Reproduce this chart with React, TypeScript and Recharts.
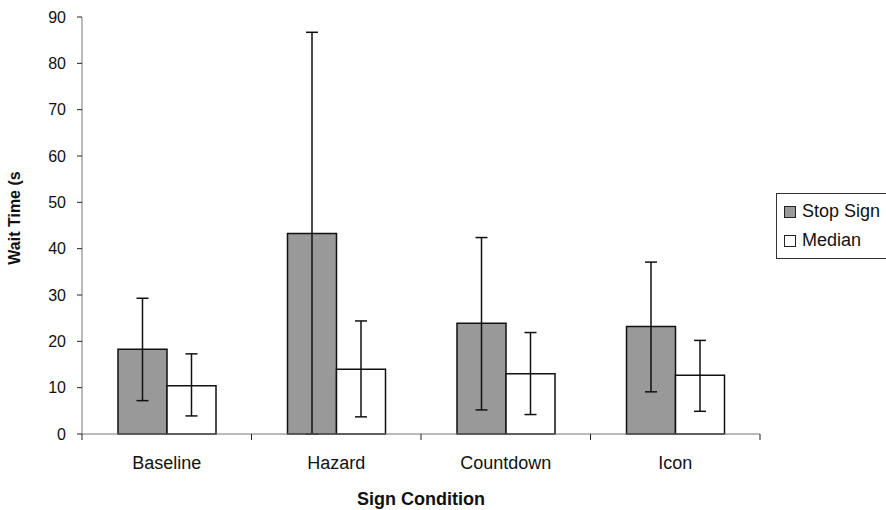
import { Bar, BarChart, ErrorBar, Legend, XAxis, YAxis } from 'recharts'

const categories = ['Baseline', 'Hazard', 'Countdown', 'Icon']
const stopSign = [18.3, 43.3, 23.9, 23.2]
const stopSignLow = [7.2, 0, 5.2, 9.1]
const stopSignHigh = [29.3, 86.7, 42.4, 37.1]
const median = [10.4, 14.0, 13.0, 12.7]
const medianLow = [3.9, 3.7, 4.2, 4.9]
const medianHigh = [17.3, 24.4, 21.9, 20.2]
const yTicks = [0, 10, 20, 30, 40, 50, 60, 70, 80, 90]

const data = categories.map((name, i) => ({
  name,
  stopSign: stopSign[i],
  stopSignErr: [stopSign[i] - stopSignLow[i], stopSignHigh[i] - stopSign[i]],
  median: median[i],
  medianErr: [median[i] - medianLow[i], medianHigh[i] - median[i]],
}))

const FONT = '"Liberation Sans", Arial, sans-serif'
const AXIS = '#777'

function CategoryTick(props: any) {
  const { x, y, payload, index, width } = props
  const band = width / categories.length
  const left = x - band / 2
  return (
    <g>
      <line x1={left} y1={y - 8} x2={left} y2={y - 2} stroke="#222" />
      {index === categories.length - 1 && (
        <line x1={x + band / 2} y1={y - 8} x2={x + band / 2} y2={y - 2} stroke="#222" />
      )}
      <text x={x} y={y + 27} textAnchor="middle" fontSize={18} fill="#111" fontFamily={FONT}>
        {payload.value}
      </text>
    </g>
  )
}

function XTitle(props: any) {
  const { viewBox } = props
  return (
    <text
      x={viewBox.x + viewBox.width / 2}
      y={505}
      textAnchor="middle"
      fontSize={18}
      fontWeight="bold"
      fill="#111"
      fontFamily={FONT}
    >
      Sign Condition
    </text>
  )
}

function YTitle() {
  return (
    <text
      transform="translate(20, 218) rotate(-90)"
      textAnchor="middle"
      fontSize={16}
      fontWeight="bold"
      fill="#111"
      fontFamily={FONT}
    >
      Wait Time (s
    </text>
  )
}

function LegendBox() {
  const items = [
    { label: 'Stop Sign', fill: '#999999' },
    { label: 'Median', fill: '#ffffff' },
  ]
  return (
    <div
      style={{
        border: '1px solid #333',
        padding: '3px 0 3px 7px',
        width: 140,
        fontFamily: FONT,
        fontSize: 18,
        color: '#111',
        background: '#fff',
        boxSizing: 'border-box',
        whiteSpace: 'nowrap',
      }}
    >
      {items.map((it) => (
        <div key={it.label} style={{ display: 'flex', alignItems: 'center', height: 29 }}>
          <span
            style={{
              display: 'inline-block',
              width: 10,
              height: 10,
              border: '1px solid #222',
              background: it.fill,
              marginRight: 6,
            }}
          />
          {it.label}
        </div>
      ))}
    </div>
  )
}

export default function App() {
  return (
    <div style={{ position: 'absolute', left: 0, top: 0, background: '#fff', overflow: 'hidden' }}>
      <BarChart
        width={886}
        height={510}
        data={data}
        margin={{ top: 17, right: 126, left: 0, bottom: 0 }}
        barCategoryGap={36}
        barGap={0}
      >
        <XAxis
          dataKey="name"
          stroke={AXIS}
          tickLine={false}
          tick={<CategoryTick />}
          height={76}
          label={<XTitle />}
        />
        <YAxis
          domain={[0, 90]}
          ticks={yTicks}
          interval={0}
          stroke={AXIS}
          tickSize={5}
          tickMargin={11}
          width={82}
          tick={{ fontSize: 16, fill: '#111', fontFamily: FONT }}
          tickLine={{ stroke: '#222' }}
          label={<YTitle />}
        />
        <Legend
          layout="horizontal"
          align="center"
          verticalAlign="middle"
          content={<LegendBox />}
          wrapperStyle={{ left: 776, top: 193, width: 140 }}
        />
        <Bar dataKey="stopSign" name="Stop Sign" fill="#999999" stroke="#111" strokeWidth={1.5} isAnimationActive={false}>
          <ErrorBar dataKey="stopSignErr" width={6} stroke="#111" strokeWidth={1.5} direction="y" />
        </Bar>
        <Bar dataKey="median" name="Median" fill="#ffffff" stroke="#111" strokeWidth={1.5} isAnimationActive={false}>
          <ErrorBar dataKey="medianErr" width={6} stroke="#111" strokeWidth={1.5} direction="y" />
        </Bar>
      </BarChart>
    </div>
  )
}
